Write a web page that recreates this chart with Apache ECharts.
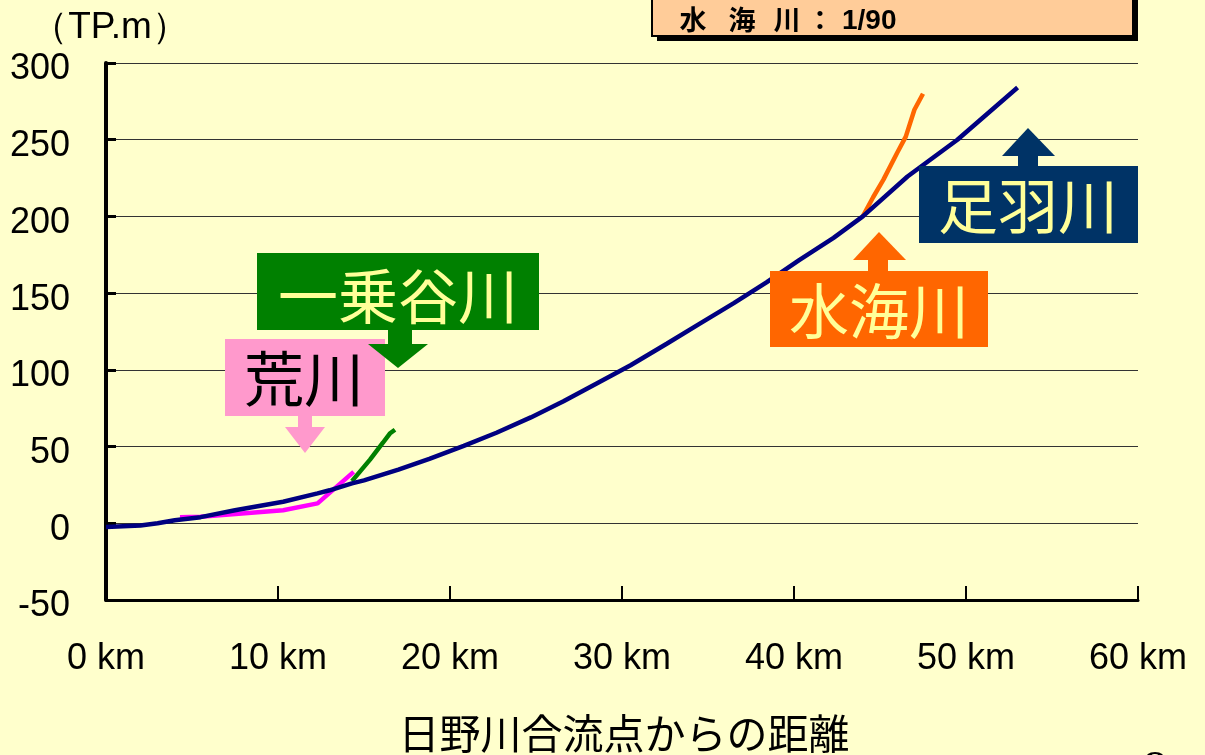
<!DOCTYPE html>
<html>
<head>
<meta charset="utf-8">
<script src="https://cdn.jsdelivr.net/npm/echarts@6/dist/echarts.min.js"></script>
<style>
html,body{margin:0;padding:0;background:#FFFFCC;}
#c{width:1205px;height:755px;}
</style>
</head>
<body>
<div id="c"></div>
<script>
// ---- data (km from the Hino River confluence, elevation TP.m) ----
const xTicks = [0, 10, 20, 30, 40, 50, 60];
const yTicks = [-50, 0, 50, 100, 150, 200, 250, 300];

// 足羽川
const asuwaKm   = [0, 2, 3, 4, 5.5, 7.5, 10.3, 12.3, 13, 14.3, 15, 17, 18.8, 20.8, 22.7, 24.7, 26.6, 28.5, 30.5, 32.6, 34.5, 36.5, 38.4, 40.3, 42.3, 44, 46.6, 49.5, 53];
const asuwaElev = [-2.5, -1.5, 0, 2, 4, 8.5, 14, 19.5, 21.5, 26, 28, 35, 42, 50.5, 59, 69, 79.5, 91, 103, 117, 130, 143.5, 157, 171.5, 186, 200, 226, 250, 284];

// 荒川
const arakawaKm   = [4.3, 5.5, 10.3, 12.3, 14.4];
const arakawaElev = [4, 4.3, 8.5, 13, 33.5];

// 一乗谷川
const ichijoKm   = [14.3, 15.35, 16.1, 16.5, 16.8];
const ichijoElev = [27.5, 41.5, 52.5, 58.5, 61];

// 水海川
const shozuKm   = [44.0, 44.6, 45.2, 46.0, 46.5, 47.0, 47.5];
const shozuElev = [200, 212.5, 224, 241.5, 252, 269.5, 280];

const pair = (xs, ys) => xs.map((x, i) => [x, ys[i]]);

const chart = echarts.init(document.getElementById('c'));
const tickFont = 'Liberation Sans, Arial, sans-serif';
const jpFont = '"Noto Sans CJK JP", sans-serif';

function lineSeries(name, data, color) {
  return {
    name, type: 'line', data, showSymbol: false, symbol: 'none',
    lineStyle: { color, width: 4.5 }, z: 3, animation: false
  };
}

function txt(text, x, y, size, fill, opts) {
  opts = opts || {};
  return {
    type: 'text', z: 101,
    style: {
      text, x, y, fill,
      font: (opts.weight || 'normal') + ' ' + size + 'px ' + (opts.family || jpFont),
      align: opts.align || 'center', verticalAlign: opts.valign || 'middle',
      textAlign: opts.align || 'center', textVerticalAlign: opts.valign || 'middle'
    }
  };
}
function rect(x, y, w, h, fill, stroke, lw) {
  return { type: 'rect', z: 100, shape: { x, y, width: w, height: h },
    style: { fill, stroke: stroke || null, lineWidth: lw || 0 } };
}
function poly(points, fill) {
  return { type: 'polygon', z: 100, shape: { points }, style: { fill } };
}

const option = {
  backgroundColor: '#FFFFCC',
  animation: false,
  grid: { left: 106, right: 67, top: 63, bottom: 155, containLabel: false },
  xAxis: {
    type: 'value', min: 0, max: 60, interval: 10,
    axisLine: { show: true, onZero: false, lineStyle: { color: '#000', width: 3 } },
    axisTick: { show: true, inside: true, length: 14, lineStyle: { color: '#000', width: 2 } },
    splitLine: { show: false },
    axisLabel: { formatter: '{value} km', fontFamily: tickFont, fontSize: 36, color: '#000', margin: 41 }
  },
  yAxis: {
    type: 'value', min: -50, max: 300, interval: 50,
    axisLine: { show: true, onZero: false, lineStyle: { color: '#000', width: 4 } },
    axisTick: { show: true, inside: true, length: 10, lineStyle: { color: '#000', width: 3 } },
    splitLine: { show: true, lineStyle: { color: '#333', width: 1 } },
    axisLabel: {
      formatter: '{a|{value}}', margin: 36,
      rich: { a: { fontFamily: tickFont, fontSize: 36, color: '#000', padding: [13, 0, 0, 0] } }
    }
  },
  series: [
    lineSeries('荒川', pair(arakawaKm, arakawaElev), '#FF00FF'),
    lineSeries('一乗谷川', pair(ichijoKm, ichijoElev), '#008000'),
    lineSeries('水海川', pair(shozuKm, shozuElev), '#FF6600'),
    lineSeries('足羽川', pair(asuwaKm, asuwaElev), '#000080')
  ],
  graphic: [
    // y unit
    txt('（TP.m）', 110, 28, 37, '#000', { family: tickFont }),
    // top box with shadow
    rect(657, -10, 481, 51, '#000'),
    rect(652, -10, 481, 46, '#FFCC99', '#000', 2),
    txt('水', 693, 20, 27, '#000', { weight: 'bold' }),
    txt('海', 742, 20, 27, '#000', { weight: 'bold' }),
    txt('川', 787, 20, 27, '#000', { weight: 'bold' }),
    txt('：', 820, 20, 27, '#000', { weight: 'bold' }),
    txt('1/90', 842, 21, 28, '#000', { weight: 'bold', align: 'left', family: tickFont }),
    // 荒川 (pink)
    rect(225, 339, 160, 77, '#FF99CC'),
    txt('荒川', 304, 379, 60, '#000'),
    rect(298, 415, 14, 13, '#FF99CC'),
    poly([[285, 427], [325, 427], [305, 453]], '#FF99CC'),
    // 一乗谷川 (green)
    rect(257, 253, 282, 77, '#008000'),
    txt('一乗谷川', 398, 296, 60, '#FFFF99'),
    rect(388, 329, 24, 16, '#008000'),
    poly([[368, 344], [428, 344], [398, 368]], '#008000'),
    // 水海川 (orange)
    rect(770, 271, 218, 76, '#FF6600'),
    txt('水海川', 879, 311, 60, '#FFFF99'),
    rect(868, 259, 20, 13, '#FF6600'),
    poly([[853, 260], [906, 260], [879, 232]], '#FF6600'),
    // 足羽川 (navy)
    rect(919, 166, 219, 77, '#003366'),
    txt('足羽川', 1028, 206, 60, '#FFFF99'),
    rect(1018, 155, 20, 12, '#003366'),
    poly([[1002, 156], [1055, 156], [1028, 128]], '#003366'),
    // x axis title
    txt('日野川合流点からの距離', 624, 733, 41, '#000'),
    // page number (cut off)
    txt('8', 1155, 772, 50, '#000', { family: 'Liberation Serif, serif' })
  ]
};
chart.setOption(option);
</script>
</body>
</html>
